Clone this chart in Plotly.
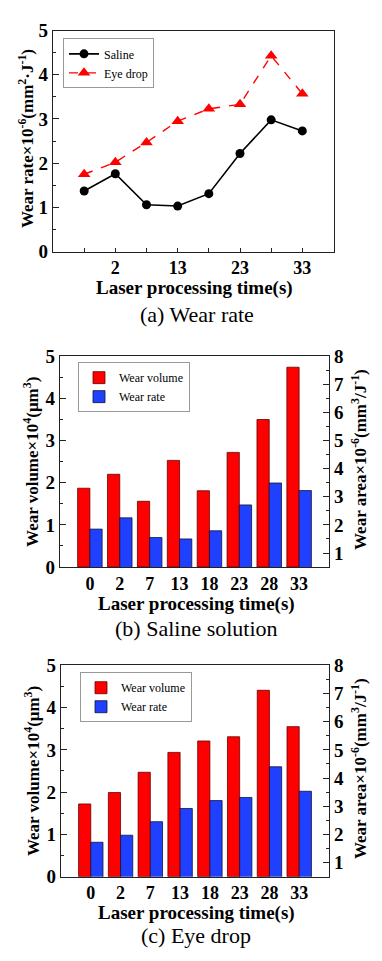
import plotly.graph_objects as go

# ---------------- data ----------------
times = ["0", "2", "7", "13", "18", "23", "28", "33"]
wear_rate_tickvals = ["2", "13", "23", "33"]

saline_rate = [1.37, 1.76, 1.06, 1.03, 1.31, 2.22, 2.98, 2.73]
eyedrop_rate = [1.75, 2.02, 2.47, 2.95, 3.23, 3.33, 4.43, 3.57]

saline_volume = [1.87, 2.20, 1.56, 2.53, 1.81, 2.72, 3.50, 4.74]
saline_area = [1.85, 2.25, 1.55, 1.50, 1.79, 2.71, 3.49, 3.22]

eyedrop_volume = [1.72, 1.99, 2.47, 2.94, 3.21, 3.31, 4.41, 3.55]
eyedrop_area = [1.72, 1.97, 2.45, 2.92, 3.20, 3.31, 4.40, 3.53]

# ---------------- style ----------------
W, H = 382, 961
SERIF = "Liberation Serif, Times New Roman, serif"
RED = "#ff0000"
BLUE = "#2040ff"


def fy(px):
    return 1 - px / H


def fx(px):
    return px / W


fig = go.Figure()

# Panel (a): lines
fig.add_trace(go.Scatter(
    x=times, y=saline_rate, name="Saline", mode="lines+markers",
    line=dict(color="black", width=1.6),
    marker=dict(symbol="circle", size=9, color="black"),
    xaxis="x", yaxis="y", legend="legend"))
fig.add_trace(go.Scatter(
    x=times, y=eyedrop_rate, name="Eye drop", mode="lines+markers",
    line=dict(color=RED, width=1.4, dash="dash"),
    marker=dict(symbol="triangle-up", size=11, color=RED),
    xaxis="x", yaxis="y", legend="legend"))
# invisible trace to carry the all-category tick axis of panel (a)
fig.add_trace(go.Scatter(x=times, y=saline_rate, mode="markers", opacity=0,
                         showlegend=False, hoverinfo="skip",
                         xaxis="x4", yaxis="y"))

BW = 0.41
# Panel (b)
fig.add_trace(go.Bar(x=times, y=saline_volume, name="Wear volume",
                     marker=dict(color=RED, line=dict(color="#600", width=0.8)),
                     width=BW, offset=-BW, xaxis="x2", yaxis="y2", legend="legend2"))
fig.add_trace(go.Bar(x=times, y=saline_area, name="Wear rate",
                     marker=dict(color=BLUE, line=dict(color="#113", width=0.8)),
                     width=BW, offset=0, xaxis="x2", yaxis="y3", legend="legend2"))
# Panel (c)
fig.add_trace(go.Bar(x=times, y=eyedrop_volume, name="Wear volume",
                     marker=dict(color=RED, line=dict(color="#600", width=0.8)),
                     width=BW, offset=-BW, xaxis="x3", yaxis="y4", legend="legend3"))
fig.add_trace(go.Bar(x=times, y=eyedrop_area, name="Wear rate",
                     marker=dict(color=BLUE, line=dict(color="#113", width=0.8)),
                     width=BW, offset=0, xaxis="x3", yaxis="y5", legend="legend3"))

xtickfont = dict(family=SERIF, size=18, color="black", weight="bold")
ytickfont = dict(family=SERIF, size=19, color="black", weight="bold")
axline = dict(showline=True, linecolor="#222", linewidth=1.2, showgrid=False,
              zeroline=False)


def xax(domain, anchor, tickvals, ticks):
    d = dict(axline)
    d.update(domain=domain, anchor=anchor, type="category", range=[-1, 8],
             categoryorder="array", categoryarray=times,
             tickmode="array", tickvals=tickvals, tickfont=xtickfont,
             ticks=ticks, ticklen=4, tickcolor="#222", mirror=True)
    return d


def yax(domain, anchor, rng, side="left", overlaying=None, mirror=True):
    d = dict(axline)
    d.update(domain=domain, anchor=anchor, range=rng, dtick=1, tick0=0,
             ticks="inside", ticklen=6, tickcolor="#222", side=side,
             tickfont=ytickfont,
             minor=dict(ticks="inside", ticklen=3, dtick=0.5, tickcolor="#222"),
             mirror=mirror)
    if overlaying:
        d["overlaying"] = overlaying
    return d


dom_a_x = [fx(53), fx(333.5)]
dom_a_y = [fy(247), fy(21)]
dom_b_x = [fx(60), fx(329)]
dom_b_y = [fy(569.5), fy(354)]
dom_c_x = [fx(61), fx(329)]
dom_c_y = [fy(886), fy(670)]

legfont = dict(family=SERIF, size=12, color="black")

xa4 = xax(dom_a_x, "y", times, "inside")
xa4.update(overlaying="x", showticklabels=False, showline=False)

fig.update_layout(
    width=W, height=H, margin=dict(l=0, r=0, t=0, b=0),
    paper_bgcolor="white", plot_bgcolor="white",
    showlegend=True,
    xaxis=xax(dom_a_x, "y", wear_rate_tickvals, "inside"),
    xaxis4=xa4,
    yaxis=yax(dom_a_y, "x", [0, 5]),
    xaxis2=xax(dom_b_x, "y2", times, ""),
    yaxis2=yax(dom_b_y, "x2", [0, 5], mirror=False),
    yaxis3=yax(dom_b_y, "x2", [0.5, 8], side="right", overlaying="y2", mirror=False),
    xaxis3=xax(dom_c_x, "y4", times, ""),
    yaxis4=yax(dom_c_y, "x3", [0, 5], mirror=False),
    yaxis5=yax(dom_c_y, "x3", [0.5, 8], side="right", overlaying="y4", mirror=False),
    legend=dict(x=fx(63), y=fy(29), xanchor="left", yanchor="top",
                bgcolor="white", bordercolor="#999", borderwidth=1,
                font=legfont, itemwidth=30, tracegroupgap=0),
    legend2=dict(x=fx(78), y=fy(360), xanchor="left", yanchor="top",
                 bgcolor="white", bordercolor="#999", borderwidth=1,
                 font=legfont, itemwidth=30),
    legend3=dict(x=fx(80), y=fy(677), xanchor="left", yanchor="top",
                 bgcolor="white", bordercolor="#999", borderwidth=1,
                 font=legfont, itemwidth=30),
)

ytitlefont = dict(family=SERIF, size=17, color="black", weight="bold")
xtitlefont = dict(family=SERIF, size=19, color="black", weight="bold")
capfont = dict(family=SERIF, size=22, color="black")


def ann(text, x, y, font, angle=0):
    fig.add_annotation(text=text, x=fx(x), y=fy(y), xref="paper", yref="paper",
                       showarrow=False, font=font, textangle=angle,
                       xanchor="center", yanchor="middle")


# Panel (a) texts
ann("Wear rate×10<sup>-6</sup>(mm<sup>2</sup>·J<sup>-1</sup>)", 26, 132, ytitlefont, -90)
ann("Laser processing time(s)", 194, 284.5, xtitlefont)
ann("(a) Wear rate", 197, 311, capfont)
# Panel (b) texts
ann("Wear volume×10<sup>4</sup>(μm<sup>3</sup>)", 31, 462, ytitlefont, -90)
ann("Wear area×10<sup>-6</sup>(mm<sup>3</sup>/J<sup>-1</sup>)", 359, 460, ytitlefont, -90)
ann("Laser processing time(s)", 196, 607, xtitlefont)
ann("(b) Saline solution", 196, 632, capfont)
# Panel (c) texts
ann("Wear volume×10<sup>4</sup>(μm<sup>3</sup>)", 32, 778, ytitlefont, -90)
ann("Wear area×10<sup>-6</sup>(mm<sup>3</sup>/J<sup>-1</sup>)", 359, 776, ytitlefont, -90)
ann("Laser processing time(s)", 196, 923, xtitlefont)
ann("(c) Eye drop", 196, 946, capfont)

fig.write_html(
    "out.html",
    config={"displayModeBar": False},
    post_script="document.body.style.margin='0';document.body.style.overflow='hidden';",
)
